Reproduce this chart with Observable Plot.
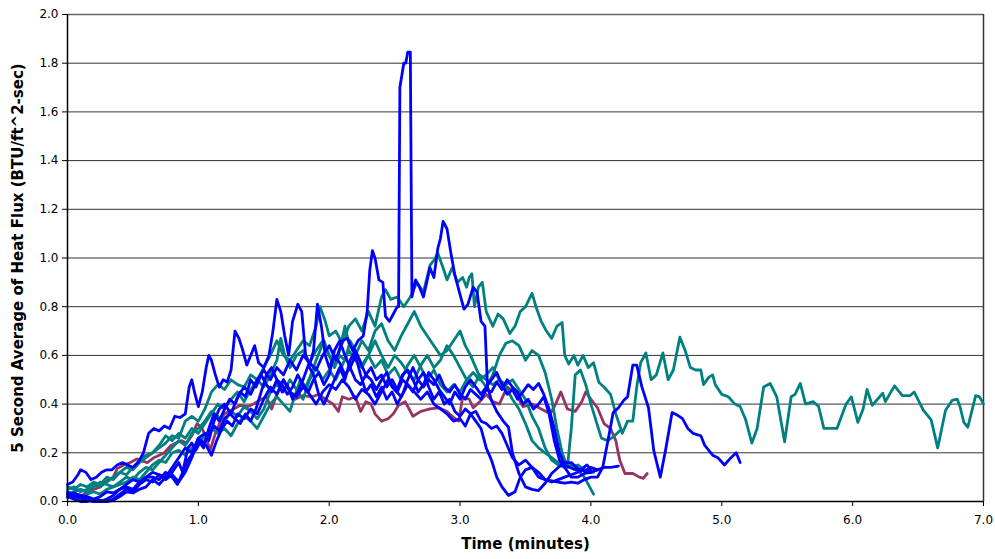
<!DOCTYPE html>
<html>
<head>
<meta charset="utf-8">
<script src="https://cdn.jsdelivr.net/npm/d3@7"></script>
<script src="https://cdn.jsdelivr.net/npm/@observablehq/plot@0.6"></script>
<style>
  html, body { margin: 0; padding: 0; background: #fff; }
  #chart { width: 995px; height: 559px; }
</style>
</head>
<body>
<div id="chart"></div>
<script>
// ---- Data: [time (minutes), 5-second average heat flux (BTU/ft^2-sec)] ----
const maroon1 = [[0,0.03],[0.05,0.025],[0.1,0.02],[0.15,0.04],[0.2,0.05],[0.25,0.06],[0.3,0.085],[0.35,0.1],[0.38,0.135],[0.43,0.15],[0.48,0.16],[0.53,0.175],[0.58,0.165],[0.61,0.16],[0.66,0.18],[0.7,0.19],[0.74,0.2],[0.79,0.23],[0.83,0.24],[0.87,0.25],[0.91,0.24],[0.95,0.27],[0.99,0.32],[1.03,0.3],[1.06,0.26],[1.09,0.21],[1.13,0.28],[1.17,0.33],[1.2,0.36],[1.27,0.38],[1.32,0.395],[1.38,0.39],[1.42,0.4],[1.48,0.42],[1.52,0.43],[1.56,0.38],[1.6,0.44],[1.65,0.5],[1.69,0.46],[1.74,0.42],[1.8,0.435],[1.87,0.43],[1.92,0.44],[1.97,0.42],[2.03,0.4],[2.07,0.37],[2.1,0.43],[2.15,0.42],[2.2,0.43],[2.24,0.37],[2.28,0.41],[2.32,0.4],[2.35,0.36],[2.4,0.33],[2.45,0.34],[2.49,0.36],[2.53,0.395],[2.58,0.41],[2.64,0.35],[2.7,0.37],[2.77,0.38],[2.84,0.385],[2.9,0.37],[2.95,0.345],[2.99,0.33],[3.02,0.43],[3.07,0.42],[3.1,0.385],[3.15,0.41],[3.2,0.44],[3.25,0.41],[3.3,0.4],[3.36,0.47],[3.42,0.45],[3.48,0.39],[3.55,0.4],[3.62,0.38],[3.69,0.36],[3.73,0.4],[3.77,0.45],[3.82,0.38],[3.88,0.37],[3.93,0.41],[3.96,0.45],[4.0,0.42],[4.05,0.385],[4.1,0.32],[4.15,0.3],[4.19,0.25],[4.22,0.17],[4.26,0.115],[4.32,0.115],[4.37,0.1],[4.4,0.095],[4.43,0.115]];

const teal1 = [[0,0.06],[0.05,0.05],[0.1,0.07],[0.15,0.06],[0.2,0.08],[0.25,0.07],[0.3,0.1],[0.35,0.09],[0.4,0.12],[0.45,0.14],[0.5,0.13],[0.55,0.16],[0.6,0.18],[0.65,0.2],[0.7,0.22],[0.75,0.24],[0.8,0.27],[0.85,0.26],[0.9,0.33],[0.95,0.35],[1.0,0.33],[1.05,0.38],[1.1,0.45],[1.15,0.48],[1.2,0.46],[1.25,0.5],[1.3,0.48],[1.35,0.47],[1.4,0.52],[1.45,0.5],[1.5,0.55],[1.55,0.6],[1.6,0.66],[1.65,0.6],[1.7,0.58],[1.75,0.62],[1.8,0.66],[1.85,0.64],[1.9,0.72],[1.93,0.8],[1.97,0.74],[2.0,0.68],[2.05,0.7],[2.1,0.65],[2.15,0.72],[2.2,0.75],[2.25,0.7],[2.3,0.78],[2.35,0.72],[2.4,0.84],[2.43,0.87],[2.47,0.83],[2.52,0.84],[2.57,0.8],[2.62,0.84],[2.67,0.9],[2.72,0.86],[2.77,0.97],[2.8,0.99],[2.83,1.02],[2.87,0.96],[2.9,0.91],[2.94,0.96],[2.98,0.9],[3.02,0.92],[3.05,0.88],[3.07,0.92],[3.09,0.935],[3.11,0.8],[3.14,0.88],[3.17,0.9],[3.2,0.78],[3.25,0.72],[3.29,0.77],[3.33,0.75],[3.38,0.69],[3.42,0.72],[3.46,0.78],[3.5,0.8],[3.55,0.855],[3.58,0.8],[3.62,0.74],[3.66,0.7],[3.7,0.67],[3.74,0.72],[3.78,0.735],[3.8,0.6],[3.83,0.565],[3.87,0.6],[3.9,0.56],[3.94,0.6],[3.98,0.55],[4.02,0.57],[4.06,0.49],[4.1,0.47],[4.15,0.44],[4.19,0.36],[4.24,0.28],[4.28,0.33],[4.32,0.33],[4.35,0.47],[4.38,0.57],[4.42,0.61],[4.46,0.5],[4.5,0.52],[4.55,0.61],[4.59,0.5],[4.63,0.54],[4.68,0.675],[4.72,0.62],[4.76,0.55],[4.8,0.54],[4.84,0.54],[4.86,0.48],[4.9,0.51],[4.93,0.52],[4.95,0.48],[5.0,0.44],[5.05,0.43],[5.1,0.4],[5.14,0.39],[5.18,0.34],[5.23,0.24],[5.27,0.3],[5.32,0.47],[5.37,0.485],[5.42,0.43],[5.48,0.245],[5.53,0.43],[5.56,0.44],[5.6,0.485],[5.64,0.4],[5.7,0.41],[5.74,0.39],[5.78,0.3],[5.83,0.3],[5.88,0.3],[5.95,0.4],[5.99,0.43],[6.04,0.325],[6.08,0.38],[6.11,0.46],[6.15,0.395],[6.19,0.42],[6.23,0.445],[6.25,0.41],[6.32,0.475],[6.38,0.435],[6.44,0.435],[6.47,0.45],[6.54,0.375],[6.6,0.335],[6.65,0.22],[6.71,0.375],[6.76,0.415],[6.8,0.42],[6.82,0.39],[6.85,0.325],[6.88,0.305],[6.94,0.435],[6.97,0.43],[7.0,0.4]];

const teal2 = [[0,0.05],[0.05,0.06],[0.1,0.04],[0.15,0.05],[0.2,0.07],[0.25,0.06],[0.3,0.08],[0.35,0.1],[0.4,0.12],[0.45,0.11],[0.5,0.14],[0.55,0.17],[0.6,0.19],[0.65,0.2],[0.7,0.23],[0.75,0.27],[0.8,0.25],[0.85,0.28],[0.9,0.26],[0.95,0.3],[1.0,0.28],[1.05,0.32],[1.1,0.36],[1.15,0.4],[1.2,0.38],[1.25,0.42],[1.3,0.45],[1.35,0.41],[1.4,0.46],[1.45,0.5],[1.5,0.47],[1.55,0.52],[1.6,0.58],[1.63,0.67],[1.66,0.6],[1.7,0.55],[1.75,0.6],[1.8,0.62],[1.85,0.57],[1.9,0.62],[1.95,0.66],[2.0,0.6],[2.04,0.56],[2.08,0.62],[2.12,0.72],[2.15,0.65],[2.2,0.6],[2.25,0.66],[2.3,0.62],[2.35,0.7],[2.4,0.73],[2.45,0.66],[2.5,0.62],[2.55,0.68],[2.6,0.73],[2.65,0.78],[2.7,0.72],[2.75,0.68],[2.8,0.64],[2.85,0.6],[2.9,0.62],[2.95,0.66],[3.0,0.7],[3.04,0.64],[3.08,0.6],[3.12,0.55],[3.16,0.5],[3.2,0.47],[3.25,0.52],[3.3,0.6],[3.35,0.65],[3.4,0.66],[3.45,0.64],[3.5,0.58],[3.55,0.62],[3.6,0.6],[3.65,0.53],[3.7,0.42],[3.74,0.3],[3.78,0.2],[3.82,0.14],[3.85,0.3],[3.88,0.52],[3.92,0.54],[3.96,0.48],[4.0,0.4],[4.04,0.33],[4.08,0.26],[4.13,0.25],[4.18,0.27],[4.22,0.29]];

const teal3 = [[0,0.03],[0.05,0.04],[0.1,0.05],[0.15,0.04],[0.2,0.06],[0.25,0.08],[0.3,0.07],[0.35,0.06],[0.4,0.08],[0.45,0.1],[0.5,0.09],[0.55,0.12],[0.6,0.14],[0.65,0.13],[0.7,0.16],[0.75,0.19],[0.8,0.22],[0.85,0.25],[0.9,0.23],[0.95,0.28],[1.0,0.3],[1.05,0.33],[1.1,0.37],[1.15,0.35],[1.2,0.33],[1.25,0.37],[1.3,0.35],[1.35,0.39],[1.4,0.37],[1.45,0.34],[1.5,0.38],[1.55,0.45],[1.6,0.48],[1.65,0.45],[1.7,0.5],[1.75,0.46],[1.8,0.42],[1.85,0.5],[1.9,0.55],[1.95,0.5],[2.0,0.54],[2.05,0.5],[2.1,0.56],[2.15,0.62],[2.2,0.58],[2.25,0.55],[2.3,0.6],[2.35,0.66],[2.4,0.6],[2.45,0.55],[2.5,0.6],[2.55,0.57],[2.6,0.53],[2.65,0.5],[2.7,0.56],[2.75,0.6],[2.8,0.55],[2.85,0.58],[2.9,0.64],[2.95,0.6],[3.0,0.55],[3.05,0.5],[3.1,0.53],[3.15,0.5],[3.2,0.52],[3.25,0.55],[3.3,0.5],[3.35,0.48],[3.4,0.5],[3.45,0.46],[3.5,0.42],[3.55,0.35],[3.6,0.3],[3.65,0.22],[3.7,0.17],[3.75,0.15],[3.8,0.14],[3.85,0.15],[3.9,0.13],[3.95,0.1],[3.99,0.06],[4.02,0.03]];

const teal4 = [[0,0.015],[0.05,0.02],[0.1,0.01],[0.15,0.03],[0.2,0.04],[0.25,0.03],[0.3,0.05],[0.35,0.06],[0.4,0.07],[0.45,0.08],[0.5,0.1],[0.55,0.09],[0.6,0.12],[0.65,0.15],[0.7,0.17],[0.75,0.16],[0.8,0.2],[0.85,0.21],[0.9,0.19],[0.95,0.22],[1.0,0.24],[1.05,0.27],[1.1,0.3],[1.15,0.28],[1.2,0.3],[1.25,0.27],[1.3,0.32],[1.35,0.35],[1.4,0.33],[1.45,0.3],[1.5,0.35],[1.55,0.4],[1.6,0.43],[1.65,0.4],[1.7,0.37],[1.74,0.44],[1.78,0.5],[1.82,0.47],[1.86,0.52],[1.9,0.58],[1.93,0.62],[1.96,0.66],[2.0,0.6],[2.04,0.55],[2.08,0.6],[2.12,0.58],[2.16,0.66],[2.2,0.62],[2.25,0.56],[2.3,0.6],[2.35,0.55],[2.4,0.58],[2.45,0.52],[2.5,0.55],[2.55,0.5],[2.6,0.56],[2.65,0.6],[2.7,0.55],[2.75,0.5],[2.8,0.54],[2.85,0.48],[2.9,0.45],[2.95,0.48],[3.0,0.45],[3.05,0.5],[3.1,0.47],[3.15,0.52],[3.2,0.5],[3.25,0.48],[3.3,0.5],[3.35,0.47],[3.4,0.42],[3.45,0.38],[3.5,0.32],[3.55,0.25],[3.6,0.22],[3.65,0.2],[3.7,0.18],[3.75,0.16],[3.8,0.145],[3.85,0.14],[3.9,0.15],[3.95,0.13],[4.0,0.12],[4.02,0.12]];

const blue1 = [[0,0.03],[0.05,0.035],[0.1,0.025],[0.15,0.015],[0.2,0.005],[0.25,0.0],[0.3,0.0],[0.35,0.01],[0.4,0.03],[0.45,0.05],[0.5,0.04],[0.55,0.07],[0.6,0.09],[0.65,0.08],[0.7,0.11],[0.75,0.1],[0.8,0.14],[0.85,0.18],[0.9,0.22],[0.95,0.2],[1.0,0.26],[1.05,0.28],[1.08,0.25],[1.12,0.33],[1.16,0.38],[1.2,0.4],[1.25,0.36],[1.3,0.43],[1.35,0.47],[1.4,0.44],[1.45,0.5],[1.5,0.54],[1.55,0.5],[1.6,0.55],[1.65,0.52],[1.7,0.58],[1.75,0.54],[1.8,0.6],[1.85,0.57],[1.9,0.54],[1.95,0.6],[2.0,0.64],[2.05,0.58],[2.1,0.66],[2.14,0.67],[2.18,0.62],[2.22,0.66],[2.26,0.68],[2.29,0.78],[2.31,0.95],[2.33,1.03],[2.35,1.0],[2.38,0.91],[2.41,0.9],[2.43,0.76],[2.46,0.74],[2.49,0.77],[2.52,0.8],[2.53,0.8],[2.54,1.7],[2.57,1.8],[2.585,1.8],[2.6,1.845],[2.62,1.845],[2.632,0.84],[2.66,0.91],[2.69,0.88],[2.72,0.84],[2.77,0.96],[2.8,0.92],[2.83,1.04],[2.85,1.08],[2.87,1.15],[2.9,1.12],[2.93,1.02],[2.96,0.93],[3.0,0.85],[3.03,0.79],[3.06,0.81],[3.1,0.88],[3.13,0.86],[3.16,0.74],[3.19,0.72],[3.21,0.47],[3.24,0.415],[3.28,0.37],[3.33,0.33],[3.37,0.305],[3.4,0.2],[3.45,0.115],[3.5,0.06],[3.55,0.05],[3.6,0.045],[3.65,0.075],[3.7,0.115],[3.75,0.14],[3.8,0.16],[3.85,0.16],[3.9,0.135],[3.95,0.125],[4.0,0.14],[4.05,0.13],[4.1,0.14],[4.15,0.14],[4.21,0.145]];

const blue2 = [[0,0.04],[0.05,0.03],[0.1,0.025],[0.15,0.02],[0.2,0.01],[0.25,0.005],[0.3,0.0],[0.35,0.005],[0.4,0.02],[0.45,0.04],[0.5,0.035],[0.55,0.05],[0.6,0.06],[0.65,0.09],[0.7,0.07],[0.75,0.1],[0.8,0.12],[0.85,0.16],[0.88,0.12],[0.92,0.22],[0.95,0.24],[0.98,0.21],[1.02,0.25],[1.06,0.23],[1.1,0.19],[1.14,0.25],[1.18,0.3],[1.22,0.33],[1.26,0.31],[1.3,0.36],[1.35,0.34],[1.4,0.38],[1.45,0.36],[1.5,0.42],[1.55,0.47],[1.6,0.44],[1.65,0.5],[1.7,0.45],[1.75,0.43],[1.8,0.47],[1.85,0.44],[1.9,0.4],[1.95,0.45],[2.0,0.48],[2.05,0.46],[2.1,0.5],[2.15,0.47],[2.2,0.42],[2.25,0.46],[2.3,0.44],[2.35,0.4],[2.4,0.45],[2.45,0.5],[2.5,0.46],[2.55,0.43],[2.6,0.48],[2.65,0.45],[2.7,0.42],[2.75,0.45],[2.8,0.4],[2.85,0.38],[2.9,0.36],[2.95,0.33],[3.0,0.34],[3.04,0.31],[3.08,0.36],[3.12,0.33],[3.16,0.3],[3.2,0.22],[3.24,0.17],[3.28,0.1],[3.32,0.06],[3.37,0.025],[3.42,0.04],[3.46,0.1],[3.5,0.13],[3.55,0.14],[3.6,0.12],[3.65,0.09],[3.7,0.085],[3.75,0.08],[3.8,0.075],[3.85,0.08],[3.9,0.075],[3.95,0.09],[4.0,0.1],[4.05,0.1],[4.09,0.14],[4.13,0.25],[4.17,0.365],[4.21,0.385],[4.25,0.415],[4.28,0.43],[4.32,0.56],[4.35,0.56],[4.39,0.47],[4.44,0.385],[4.48,0.21],[4.53,0.1],[4.57,0.21],[4.62,0.365],[4.66,0.355],[4.7,0.34],[4.74,0.3],[4.78,0.28],[4.84,0.27],[4.87,0.23],[4.93,0.19],[4.97,0.18],[5.02,0.15],[5.07,0.18],[5.11,0.2],[5.14,0.16]];

const blue3 = [[0,0.07],[0.04,0.08],[0.08,0.11],[0.1,0.13],[0.14,0.12],[0.18,0.09],[0.22,0.1],[0.26,0.12],[0.3,0.13],[0.34,0.13],[0.38,0.15],[0.42,0.16],[0.46,0.15],[0.5,0.14],[0.54,0.16],[0.58,0.2],[0.62,0.28],[0.66,0.3],[0.7,0.29],[0.74,0.31],[0.78,0.3],[0.82,0.35],[0.86,0.345],[0.9,0.36],[0.93,0.47],[0.95,0.5],[0.97,0.45],[1.0,0.39],[1.03,0.45],[1.06,0.55],[1.08,0.6],[1.1,0.58],[1.13,0.52],[1.16,0.47],[1.19,0.5],[1.22,0.49],[1.25,0.54],[1.28,0.7],[1.31,0.67],[1.34,0.62],[1.37,0.56],[1.4,0.6],[1.43,0.64],[1.46,0.57],[1.5,0.55],[1.54,0.6],[1.57,0.7],[1.6,0.83],[1.63,0.78],[1.66,0.68],[1.69,0.6],[1.72,0.74],[1.76,0.81],[1.79,0.78],[1.82,0.6],[1.85,0.56],[1.88,0.62],[1.91,0.81],[1.94,0.72],[1.97,0.6],[2.0,0.55],[2.04,0.6],[2.08,0.57],[2.12,0.52],[2.16,0.55],[2.2,0.5],[2.24,0.48],[2.28,0.52],[2.32,0.5],[2.36,0.46],[2.4,0.5],[2.44,0.53],[2.48,0.47],[2.52,0.45],[2.56,0.5],[2.6,0.48],[2.64,0.45],[2.68,0.5],[2.72,0.47],[2.76,0.5],[2.8,0.48],[2.84,0.52],[2.88,0.47],[2.92,0.45],[2.96,0.48],[3.0,0.44],[3.04,0.42],[3.08,0.46],[3.12,0.44],[3.16,0.42],[3.2,0.46],[3.24,0.45],[3.28,0.49],[3.32,0.46],[3.36,0.5],[3.4,0.47],[3.44,0.45],[3.48,0.4],[3.52,0.42],[3.56,0.38],[3.6,0.4],[3.64,0.43],[3.68,0.36],[3.72,0.25],[3.76,0.17],[3.8,0.14],[3.85,0.1],[3.9,0.1],[3.95,0.115],[4.0,0.12]];

const blue4 = [[0,0.03],[0.05,0.02],[0.1,0.015],[0.15,0.005],[0.2,0.0],[0.25,0.0],[0.3,0.01],[0.35,0.025],[0.4,0.05],[0.45,0.06],[0.5,0.05],[0.55,0.08],[0.6,0.1],[0.65,0.12],[0.7,0.11],[0.75,0.09],[0.8,0.11],[0.85,0.08],[0.9,0.12],[0.95,0.18],[1.0,0.25],[1.04,0.22],[1.08,0.3],[1.12,0.36],[1.16,0.33],[1.2,0.38],[1.24,0.42],[1.28,0.4],[1.32,0.45],[1.36,0.43],[1.4,0.5],[1.44,0.47],[1.48,0.52],[1.52,0.48],[1.56,0.45],[1.6,0.5],[1.64,0.48],[1.68,0.44],[1.72,0.47],[1.76,0.52],[1.8,0.48],[1.84,0.45],[1.88,0.5],[1.92,0.53],[1.96,0.48],[2.0,0.52],[2.04,0.62],[2.08,0.66],[2.12,0.6],[2.16,0.55],[2.2,0.6],[2.24,0.52],[2.28,0.45],[2.32,0.48],[2.36,0.43],[2.4,0.47],[2.44,0.42],[2.48,0.45],[2.52,0.4],[2.56,0.44],[2.6,0.5],[2.64,0.55],[2.68,0.5],[2.72,0.53],[2.76,0.47],[2.8,0.42],[2.84,0.45],[2.88,0.4],[2.92,0.42],[2.96,0.37],[3.0,0.35],[3.04,0.38],[3.08,0.36],[3.12,0.37],[3.16,0.33],[3.2,0.32],[3.24,0.3],[3.28,0.31],[3.32,0.28],[3.36,0.23],[3.4,0.18],[3.45,0.15],[3.5,0.17],[3.55,0.14],[3.6,0.1],[3.65,0.09],[3.7,0.08],[3.75,0.09],[3.8,0.1],[3.85,0.11],[3.9,0.12],[3.95,0.13],[4.0,0.12],[4.05,0.13]];

const blue5 = [[0,0.02],[0.05,0.01],[0.1,0.0],[0.15,0.0],[0.2,0.01],[0.25,0.02],[0.3,0.04],[0.35,0.035],[0.4,0.05],[0.45,0.07],[0.5,0.09],[0.55,0.08],[0.6,0.1],[0.65,0.1],[0.7,0.09],[0.75,0.12],[0.8,0.1],[0.84,0.07],[0.88,0.12],[0.92,0.17],[0.96,0.2],[1.0,0.26],[1.04,0.24],[1.08,0.28],[1.12,0.31],[1.16,0.29],[1.2,0.34],[1.24,0.36],[1.28,0.34],[1.32,0.32],[1.36,0.36],[1.4,0.33],[1.44,0.38],[1.48,0.45],[1.52,0.52],[1.56,0.55],[1.6,0.5],[1.64,0.45],[1.68,0.48],[1.72,0.42],[1.76,0.45],[1.8,0.5],[1.84,0.56],[1.88,0.52],[1.92,0.44],[1.96,0.4],[2.0,0.45],[2.04,0.5],[2.08,0.55],[2.12,0.5],[2.16,0.58],[2.2,0.62],[2.24,0.57],[2.28,0.52],[2.32,0.55],[2.36,0.5],[2.4,0.52],[2.44,0.47],[2.48,0.5],[2.52,0.46],[2.56,0.52],[2.6,0.54],[2.64,0.5],[2.68,0.45],[2.72,0.48],[2.76,0.53],[2.8,0.5],[2.84,0.46],[2.88,0.43],[2.92,0.4],[2.96,0.45],[3.0,0.42],[3.04,0.47],[3.08,0.5],[3.12,0.47],[3.16,0.44],[3.2,0.47],[3.24,0.5],[3.28,0.53],[3.32,0.48],[3.36,0.44],[3.4,0.46],[3.44,0.42],[3.48,0.45],[3.52,0.48],[3.56,0.46],[3.6,0.485],[3.64,0.44],[3.68,0.38],[3.72,0.3],[3.76,0.2],[3.8,0.15],[3.84,0.14],[3.88,0.13],[3.92,0.13],[3.97,0.15],[4.0,0.13]];

const xTicks = [0, 1, 2, 3, 4, 5, 6, 7];
const yTicks = [0, 0.2, 0.4, 0.6, 0.8, 1.0, 1.2, 1.4, 1.6, 1.8, 2.0];
const xTitle = "Time (minutes)";
const yTitle = "5 Second Average of Heat Flux (BTU/ft^2-sec)";

const seriesList = [
  {data: maroon1, color: "#993366"},
  {data: teal4, color: "#008080"},
  {data: teal3, color: "#008080"},
  {data: teal2, color: "#008080"},
  {data: teal1, color: "#008080"},
  {data: blue5, color: "#0000FF"},
  {data: blue4, color: "#0000FF"},
  {data: blue3, color: "#0000FF"},
  {data: blue2, color: "#0000FF"},
  {data: blue1, color: "#0000FF"}
];

const fmt = d3.format(".1f");
const FONT = "'DejaVu Sans', 'Liberation Sans', Arial, sans-serif";

const chart = Plot.plot({
  width: 995,
  height: 559,
  marginLeft: 67,
  marginRight: 12,
  marginTop: 14,
  marginBottom: 58,
  style: {fontFamily: FONT, fontSize: "12px", color: "#000", background: "#fff"},
  x: {domain: [0, 7]},
  y: {domain: [0, 2]},
  marks: [
    Plot.gridY(yTicks.filter(d => d > 0 && d < 2), {stroke: "#333", strokeOpacity: 1, strokeWidth: 1}),
    Plot.ruleY([2], {stroke: "#666", strokeWidth: 1.5}),
    Plot.ruleX([7], {stroke: "#333", strokeWidth: 1.5}),
    ...seriesList.map(s => Plot.line(s.data, {x: d => d[0], y: d => d[1], stroke: s.color, strokeWidth: 2.8, strokeLinejoin: "round"})),
    Plot.ruleY([0], {stroke: "#000", strokeWidth: 1.5}),
    Plot.ruleX([0], {stroke: "#000", strokeWidth: 1.5}),
    Plot.axisX({ticks: xTicks, tickFormat: fmt, tickSize: 5, tickPadding: 9, label: null, stroke: "#000", fill: "#000"}),
    Plot.axisY({ticks: yTicks, tickFormat: fmt, tickSize: 5, tickPadding: 4, label: null, stroke: "#000", fill: "#000"}),
    Plot.text([xTitle], {frameAnchor: "bottom", dy: 47, fontSize: 15, fontWeight: "bold", fill: "#000", textAnchor: "middle"}),
    Plot.text([yTitle], {frameAnchor: "left", dx: -49, rotate: -90, fontSize: 15, fontWeight: "bold", fill: "#000", textAnchor: "middle"})
  ]
});
document.getElementById("chart").appendChild(chart);
</script>
</body>
</html>
